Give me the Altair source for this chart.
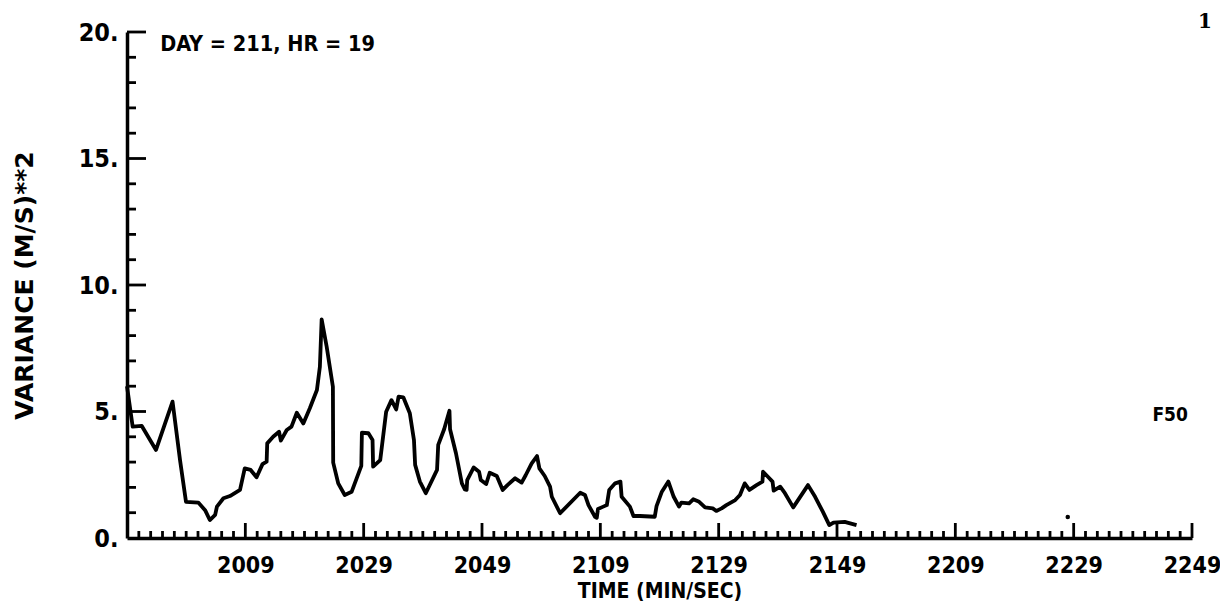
import altair as alt
import pandas as pd

# elapsed minutes since 19:49 and variance (m/s)^2
minutes = [0, 0.96, 2.5, 4.9, 7.7, 8.96, 9.97, 12.05, 13.2, 14.0, 14.9, 15.2, 16.3, 17.4,
           19.1, 19.9, 20.9, 21.9, 22.9, 23.6, 23.7, 24.7, 25.7, 26.0, 27.0, 27.8, 28.7,
           29.8, 30.9, 32.1, 32.6, 32.9, 33.75, 34.8, 34.85, 35.7, 36.8, 37.98, 39.6, 39.7,
           40.8, 41.5, 41.6, 42.8, 43.8, 44.7, 45.5, 45.9, 46.7, 47.8, 48.5, 48.7, 49.5,
           50.5, 52.4, 52.6, 53.6, 54.5, 54.6, 55.6, 56.6, 57.1, 57.4, 57.5, 58.6, 59.5,
           59.8, 60.7, 61.3, 62.5, 63.5, 64.3, 65.6, 66.7, 67.4, 68.4, 69.3, 69.7, 70.6,
           71.5, 71.8, 73.2, 76.6, 77.4, 78.0, 79.1, 79.4, 79.6, 80.5, 81.1, 81.5, 82.5,
           83.4, 83.6, 85.0, 85.6, 86.7, 89.2, 89.5, 90.4, 91.5, 92.4, 93.3, 93.7, 95.0,
           95.7, 96.7, 97.7, 99.0, 99.6, 100.5, 101.3, 102.8, 103.6, 104.4, 105.2, 106.4,
           107.4, 107.5, 108.4, 109.1, 109.3, 110.4, 111.2, 112.6, 115.1, 116.3, 117.6,
           118.7, 119.4, 121.3, 123.3]
variance = [6.0, 4.4, 4.43, 3.48, 5.39, 3.08, 1.43, 1.4, 1.1, 0.71, 0.91, 1.24, 1.57, 1.66,
            1.9, 2.75, 2.69, 2.4, 2.92, 3.02, 3.74, 4.0, 4.2, 3.85, 4.27, 4.4, 4.95,
            4.53, 5.13, 5.85, 6.77, 8.64, 7.56, 5.98, 2.98, 2.16, 1.7, 1.83, 2.85, 4.16,
            4.14, 3.87, 2.82, 3.08, 4.99, 5.45, 5.08, 5.59, 5.56, 4.93, 3.87, 2.89, 2.23,
            1.77, 2.69, 3.68, 4.3, 5.03, 4.3, 3.35, 2.16, 1.92, 1.9, 2.29, 2.79, 2.62,
            2.29, 2.13, 2.58, 2.45, 1.9, 2.09, 2.36, 2.19, 2.49, 2.95, 3.24, 2.75, 2.45,
            2.03, 1.63, 0.98, 1.79, 1.7, 1.3, 0.84, 0.8, 1.15, 1.24, 1.3, 1.9, 2.16,
            2.23, 1.63, 1.24, 0.87, 0.87, 0.84, 1.26, 1.83, 2.23, 1.63, 1.24, 1.4, 1.37,
            1.53, 1.43, 1.21, 1.17, 1.07, 1.17, 1.30, 1.50, 1.70, 2.16, 1.9, 2.09,
            2.23, 2.62, 2.40, 2.23, 1.87, 2.03, 1.77, 1.21, 2.09, 1.63, 1.04,
            0.51, 0.61, 0.64, 0.51]

x_major = [20, 40, 60, 80, 100, 120, 140, 160, 180]
x_minor = [m for m in range(2, 180, 2) if m % 20 != 0]
y_major = [5, 10, 15, 20]
y_minor = [v for v in range(1, 20) if v % 5 != 0]
y_labels = [0, 5, 10, 15, 20]

W, H = 1065, 506
FONT = "DejaVu Sans Condensed"
WIDE = "DejaVu Sans"

xs = alt.Scale(domain=[0, 180], nice=False, zero=False)
ys = alt.Scale(domain=[0, 20], nice=False)

xaxis = alt.Axis(
    values=x_major, ticks=False, grid=False, domain=True, domainWidth=3.5, domainColor="black",
    labelExpr="format(floor((1189+datum.value)/60)*100 + (1189+datum.value)%60, 'd')",
    labelFont=FONT, labelFontWeight="bold", labelFontSize=23, labelColor="black",
    labelPadding=16, labelFlush=False,
    title="TIME (MIN/SEC)", titleFont=FONT, titleFontWeight="bold", titleFontSize=21,
    titleColor="black", titleX=W / 2, titleY=53, titleBaseline="middle")
yaxis = alt.Axis(
    values=y_labels, ticks=False, grid=False, domain=True, domainWidth=3.5, domainColor="black",
    labelExpr="datum.value + '.'",
    labelFont=FONT, labelFontWeight="bold", labelFontSize=25, labelColor="black",
    labelPadding=9, labelFlush=False,
    title="VARIANCE (M/S)**2", titleFont=WIDE, titleFontWeight="bold", titleFontSize=25,
    titleColor="black", titleX=-103, titleY=H / 2, titleAngle=270, titleBaseline="middle")

X = lambda: alt.X("t:Q", scale=xs, axis=xaxis)
Y = lambda: alt.Y("v:Q", scale=ys, axis=yaxis)

df = pd.DataFrame({"t": minutes, "v": variance})

line = alt.Chart(df).mark_line(color="black", strokeWidth=3.8, strokeJoin="round").encode(
    x=X(), y=Y())

xmaj = alt.Chart(pd.DataFrame({"t": x_major})).mark_rule(color="black", strokeWidth=2.8).encode(
    x=X(), y=alt.value(H), y2=alt.value(H - 15))
xmin = alt.Chart(pd.DataFrame({"t": x_minor})).mark_rule(color="black", strokeWidth=2.8).encode(
    x=X(), y=alt.value(H), y2=alt.value(H - 7))
ymaj = alt.Chart(pd.DataFrame({"v": y_major})).mark_rule(color="black", strokeWidth=2.8).encode(
    y=Y(), x=alt.value(0), x2=alt.value(19))
ymin = alt.Chart(pd.DataFrame({"v": y_minor})).mark_rule(color="black", strokeWidth=2.8).encode(
    y=Y(), x=alt.value(0), x2=alt.value(9))

ann = pd.DataFrame({"t": [5.6], "v": [19.5], "s": ["DAY = 211, HR = 19"]})
ann_t = alt.Chart(ann).mark_text(align="left", baseline="middle", font=FONT, fontWeight="bold",
                                 fontSize=21.5, color="black").encode(x=X(), y=Y(), text="s:N")

f50 = pd.DataFrame({"t": [179.3], "v": [4.86], "s": ["F50"]})
f50_t = alt.Chart(f50).mark_text(align="right", baseline="middle", font=FONT, fontWeight="bold",
                                 fontSize=19, color="black").encode(x=X(), y=Y(), text="s:N")

pg = pd.DataFrame({"t": [182.2], "v": [20.4], "s": ["1"]})
pg_t = alt.Chart(pg).mark_text(align="center", baseline="middle", font="DejaVu Serif",
                               fontWeight="bold", fontSize=20, color="black", clip=False).encode(
    x=X(), y=Y(), text="s:N")

dot = pd.DataFrame({"t": [159.0], "v": [0.83]})
dot_m = alt.Chart(dot).mark_circle(color="black", size=20, opacity=1).encode(x=X(), y=Y())

chart = alt.layer(line, xmin, xmaj, ymin, ymaj, ann_t, f50_t, pg_t, dot_m).properties(
    width=W, height=H,
    autosize=alt.AutoSizeParams(type="none"),
    padding={"left": 119, "top": 24, "right": 28, "bottom": 66},
    background="white",
).configure_view(stroke=None)

chart.save("out.html", embed_options={"renderer": "svg", "actions": False})
